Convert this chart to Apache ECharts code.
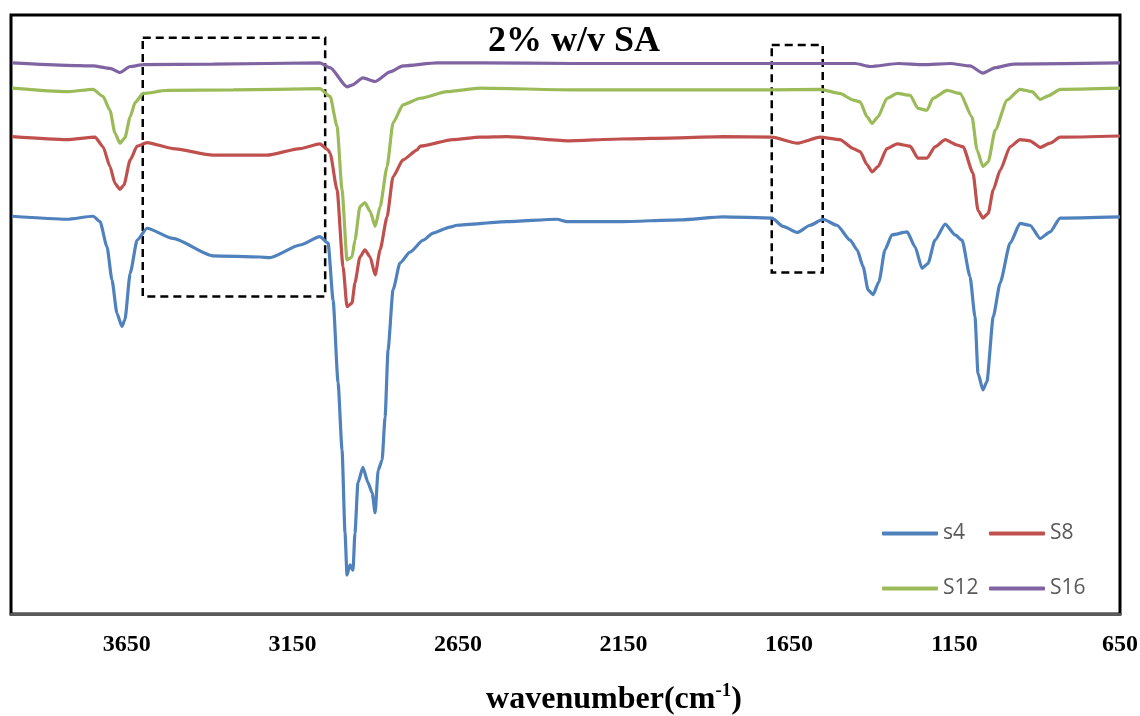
<!DOCTYPE html>
<html><head><meta charset="utf-8">
<script src="https://cdn.jsdelivr.net/npm/echarts/dist/echarts.min.js"></script>
<style>html,body{margin:0;padding:0;background:#fff}#c{width:1140px;height:716px}</style>
</head><body><div id="c"></div>
<script>
// x tick labels (wavenumber, cm-1)
const xTickLabels = [650, 1150, 1650, 2150, 2650, 3150, 3650];
const seriesNames = ['s4', 'S8', 'S12', 'S16'];

// [wavenumber, relative transmittance (arbitrary units, 0-100)]
const s4 = [
 [3997,66.4],[3831,65.9],[3752,66.4],[3731,65.5],[3710,61.3],[3695,55.8],[3680,50.2],[3665,48.0],[3656,49.1],
 [3640,56.9],[3619,62.4],[3589,64.4],[3511,62.7],[3390,59.8],[3248,59.6],[3218,59.5],[3127,61.6],[3067,63.0],
 [3042,61.9],[3027,52.4],[3012,38.6],[3000,27.4],[2991,13.5],[2985,6.5],[2976,8.2],[2967,7.3],[2961,13.5],
 [2952,21.9],[2937,24.5],[2922,22.0],[2909,20.2],[2900,16.9],[2891,24.0],[2879,25.7],[2870,32.9],[2861,44.1],
 [2846,54.1],[2825,58.6],[2795,60.4],[2755,62.4],[2725,63.6],[2674,64.6],[2653,64.9],[2502,65.5],[2351,65.9],
 [2320,65.5],[2160,65.5],[1979,65.8],[1849,66.3],[1701,66.1],[1668,64.7],[1625,63.7],[1586,64.9],[1547,65.9],
 [1505,64.9],[1465,62.4],[1444,60.8],[1426,58.0],[1411,54.1],[1396,53.3],[1378,55.5],[1360,60.8],[1339,63.3],
 [1293,63.8],[1269,61.3],[1248,57.7],[1230,58.5],[1209,62.4],[1178,65.1],[1148,63.3],[1127,62.4],[1103,56.3],
 [1088,49.6],[1079,40.2],[1064,37.4],[1052,38.8],[1033,49.6],[1012,55.3],[982,61.9],[952,65.2],[922,64.9],
 [891,62.7],[861,63.8],[831,66.1],[650,66.3]
];
const s8 = [
 [3997,79.7],[3831,79.2],[3746,79.6],[3722,78.0],[3701,74.7],[3686,71.9],[3671,70.9],[3659,71.6],[3640,75.8],
 [3619,78.1],[3589,78.7],[3511,77.7],[3390,76.6],[3227,76.6],[3127,77.7],[3067,78.5],[3042,77.5],[3036,76.9],
 [3015,70.8],[2997,58.0],[2985,51.3],[2970,51.9],[2961,55.3],[2946,59.6],[2931,60.8],[2915,59.6],[2900,56.6],
 [2885,60.8],[2864,66.3],[2846,73.0],[2816,75.8],[2773,77.5],[2764,78.1],[2665,79.2],[2583,79.6],[2502,79.7],
 [2320,79.0],[2160,79.3],[1979,79.5],[1849,79.7],[1701,79.6],[1625,78.6],[1556,79.6],[1496,79.2],[1456,77.7],
 [1435,77.2],[1414,75.0],[1399,73.8],[1381,74.7],[1354,77.7],[1323,78.5],[1284,78.1],[1260,76.1],[1233,76.1],
 [1209,78.0],[1178,79.2],[1142,78.3],[1124,78.0],[1094,73.6],[1079,67.4],[1064,66.1],[1048,66.9],[1033,70.8],
 [1012,74.1],[982,78.0],[952,79.2],[922,79.0],[891,77.9],[861,78.6],[831,79.6],[650,79.8]
];
const s12 = [
 [3997,87.8],[3831,87.2],[3752,87.6],[3722,86.4],[3701,84.1],[3686,80.3],[3671,78.6],[3656,79.5],[3640,83.0],
 [3625,85.4],[3601,86.9],[3529,87.4],[3329,87.5],[3067,87.7],[3036,86.4],[3015,81.4],[3000,70.8],[2985,59.1],
 [2970,59.6],[2961,62.4],[2946,68.0],[2931,68.7],[2915,67.2],[2900,64.7],[2885,68.0],[2864,74.7],[2846,82.0],
 [2816,85.0],[2764,86.1],[2683,87.2],[2583,87.8],[2300,87.5],[2000,87.5],[1700,87.5],[1556,87.6],[1496,86.9],
 [1456,85.8],[1435,85.5],[1414,83.0],[1399,81.9],[1381,83.0],[1354,86.1],[1323,86.9],[1284,86.6],[1260,84.4],
 [1233,84.1],[1215,86.1],[1172,87.4],[1133,86.9],[1097,83.0],[1082,77.5],[1064,74.7],[1048,75.5],[1027,80.8],
 [991,85.8],[952,87.6],[916,87.2],[891,85.9],[867,86.5],[831,87.6],[650,87.8]
];
const s16 = [
 [3997,92.0],[3831,91.6],[3752,91.5],[3701,91.1],[3671,90.4],[3640,91.4],[3601,91.7],[3390,91.8],[3067,92.0],
 [3036,91.2],[2985,88.0],[2970,88.3],[2937,89.5],[2900,88.9],[2855,90.5],[2816,91.5],[2713,92.0],[2583,92.0],
 [2300,91.9],[2000,91.9],[1700,91.9],[1450,91.9],[1405,91.4],[1318,91.9],[1245,91.7],[1163,91.9],[1103,91.5],
 [1064,90.3],[1027,91.2],[973,91.8],[650,92.0]
];
// dashed highlight boxes: [[wn1, v1], [wn2, v2]]
const boxes = [
 [[3602, 96.2], [3051, 53.0]],
 [[1702, 95.0], [1548, 57.0]]
];
const colors = ['#4F81BD', '#C0504D', '#9BBB59', '#8064A2'];

const chart = echarts.init(document.getElementById('c'), null, {renderer: 'canvas'});
const dataSets = [s4, s8, s12, s16];
const serif = 'Liberation Serif';
const legendCommon = {
  icon: 'roundRect', itemWidth: 56, itemHeight: 4, padding: 0, itemGap: 0,
  textStyle: {color: '#595959', fontSize: 21, fontFamily: 'Open Sans'}
};
const legendPos = [[882, 523], [989, 523], [882, 578], [989, 578]];
chart.setOption({
  animation: false,
  backgroundColor: '#fff',
  title: [
    {text: '2% w/v SA', left: 574, top: 24, textAlign: 'center', padding: 0,
     textStyle: {fontFamily: serif, fontWeight: 'bold', fontSize: 36, color: '#000'}},
    {text: '{a|wavenumber(cm}{s|-1}{a|)}', left: 614, top: 682, textAlign: 'center', padding: 0,
     textStyle: {rich: {
       a: {fontFamily: serif, fontWeight: 'bold', fontSize: 32, color: '#000', lineHeight: 36},
       s: {fontFamily: serif, fontWeight: 'bold', fontSize: 19, color: '#000', lineHeight: 18, verticalAlign: 'top'}
     }}}
  ],
  legend: seriesNames.map((n, i) => Object.assign({data: [n], left: legendPos[i][0], top: legendPos[i][1]}, legendCommon)),
  grid: {left: 11, right: 20, top: 15, bottom: 102, show: true, borderColor: '#000', borderWidth: 3,
         backgroundColor: 'rgba(0,0,0,0)', containLabel: false, outerBoundsMode: 'none'},
  xAxis: {
    type: 'value', min: 650, max: 4000, interval: 500, inverse: true,
    axisLine: {show: true, lineStyle: {color: '#595959', width: 3}},
    axisTick: {show: false}, splitLine: {show: false},
    axisLabel: {margin: 19, fontFamily: serif, fontWeight: 'bold', fontSize: 24, color: '#000',
      formatter: v => xTickLabels.indexOf(v) >= 0 ? String(v) : ''}
  },
  yAxis: {type: 'value', min: 0, max: 100, show: false, splitLine: {show: false}},
  series: dataSets.map((d, i) => ({
    name: seriesNames[i], type: 'line', data: d, symbol: 'none', smooth: 0.2, smoothMonotone: 'x',
    lineStyle: {width: 3.2, color: colors[i]}, itemStyle: {color: colors[i]},
    markArea: i === 3 ? {silent: true,
      itemStyle: {color: 'rgba(0,0,0,0)', borderColor: '#000', borderWidth: 2.5, borderType: [8, 5]},
      data: boxes.map(b => [{coord: b[0]}, {coord: b[1]}])} : undefined
  }))
});
</script>
</body></html>
